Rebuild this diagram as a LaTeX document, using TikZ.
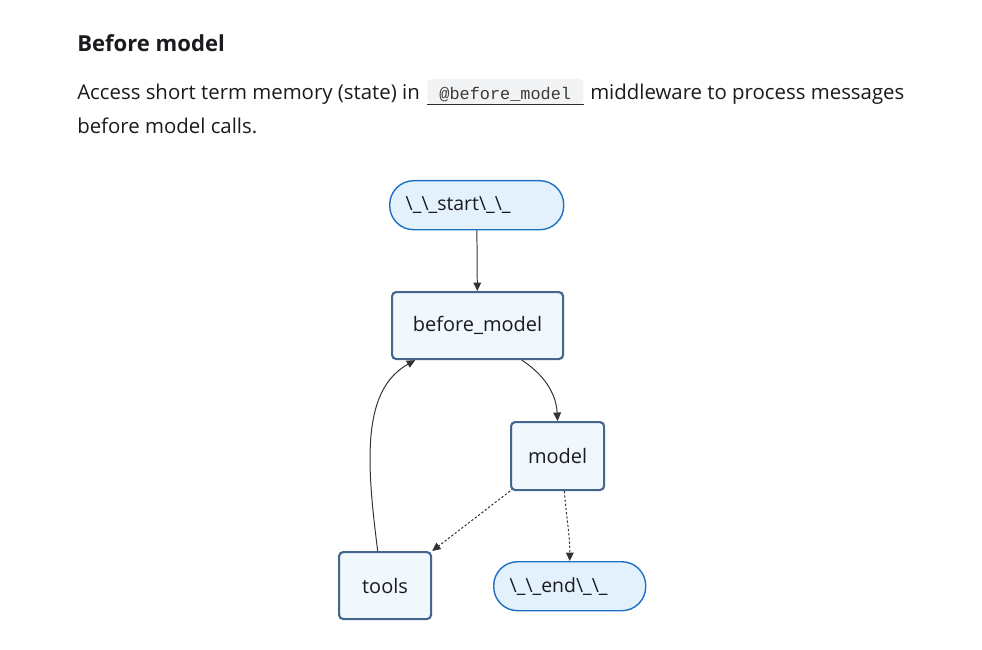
\documentclass[tikz,border=0pt]{standalone}
\usepackage{fontspec}
\setmainfont{Open Sans}
\setmonofont{Liberation Mono}
\usetikzlibrary{arrows.meta}

\definecolor{inkdark}{HTML}{1B1B1F}
\definecolor{codebg}{HTML}{F2F3F5}
\definecolor{codeink}{HTML}{3A3A3A}
\definecolor{codeline}{HTML}{2B2B2B}
\definecolor{boxfill}{HTML}{F0F7FD}
\definecolor{boxline}{HTML}{44658C}
\definecolor{termfill}{HTML}{E3F1FC}
\definecolor{termline}{HTML}{1F6FC5}
\definecolor{edgecol}{HTML}{333333}

\newcommand{\bsl}{\textbackslash\_}

\tikzset{
  heading/.style={
    anchor=base west, inner sep=0pt, text=inkdark,
    font=\fontsize{15.7}{18}\selectfont\bfseries
  },
  bodytext/.style={
    anchor=base west, inner sep=0pt, text=inkdark,
    font=\fontsize{14.5}{17}\selectfont
  },
  codechip/.style={
    anchor=base west, fill=codebg, rounded corners=3pt,
    minimum width=3.9cm, inner xsep=0pt, inner ysep=0pt,
    text height=0.525cm, text depth=0.1cm, text=codeink,
    font=\ttfamily\fontsize{12}{14}\selectfont
  },
  stepbox/.style={
    draw=boxline, fill=boxfill, line width=1.5pt,
    rounded corners=3pt, inner sep=0pt, text=inkdark,
    align=center, font=\fontsize{14.2}{17}\selectfont
  },
  termbox/.style={
    draw=termline, fill=termfill, line width=1pt,
    rounded corners=0.6cm, minimum height=1.225cm,
    inner xsep=0.4cm, inner ysep=0pt, align=left, text=inkdark,
    font=\fontsize{13.8}{17}\selectfont
  },
  edge/.style={
    draw=edgecol, line width=0.7pt,
    -{Triangle[length=6pt,width=5.5pt]}
  },
  condedge/.style={
    edge, dash pattern=on 1.6pt off 1.4pt
  },
}

\begin{document}
\begin{tikzpicture}[x=0.025cm, y=-0.025cm]

%% Page
\fill[white] (0,0) rectangle (982,650);
\useasboundingbox (0,0) rectangle (982,650);

%% Heading and paragraph
\node[heading] (title) at (77,52) {Before model};
\node[bodytext] (lineA) at (77,100) {Access short term memory (state) in};
\node[codechip] (chip) at (427,100) {@before\_model};
\draw[codeline, line width=0.8pt] (chip.south west) -- (chip.south east);
\node[bodytext] (lineB) at (590,100) {middleware to process messages};
\node[bodytext] (lineC) at (77,134) {before model calls.};

%% Graph nodes
\node[termbox, text width=3.55cm, anchor=north west] (start) at (389,180)
  {\bsl\bsl start\bsl\bsl};

\node[stepbox, minimum width=4.275cm, minimum height=1.675cm, anchor=north west]
  (before) at (391,291) {before\_model};

\node[stepbox, minimum width=2.325cm, minimum height=1.7cm, anchor=north west]
  (model) at (510,421) {model};

\node[stepbox, minimum width=2.3cm, minimum height=1.675cm, anchor=north west]
  (tools) at (338,551) {tools};

\node[termbox, text width=3.0cm, anchor=north west] (finish) at (493,561)
  {\bsl\bsl end\bsl\bsl};

%% Edges
\draw[edge] (start) -- (before);
\draw[edge] (before.-38) .. controls (540,372) and (556,390) .. (model.north);
\draw[edge] (tools.102) .. controls (366,460) and (362,390) .. (before.-151);
\draw[condedge] (model.south west) -- (tools.north east);
\draw[condedge] (model.-79) .. controls (566,515) and (570,535) .. (finish.north);

\end{tikzpicture}
\end{document}
